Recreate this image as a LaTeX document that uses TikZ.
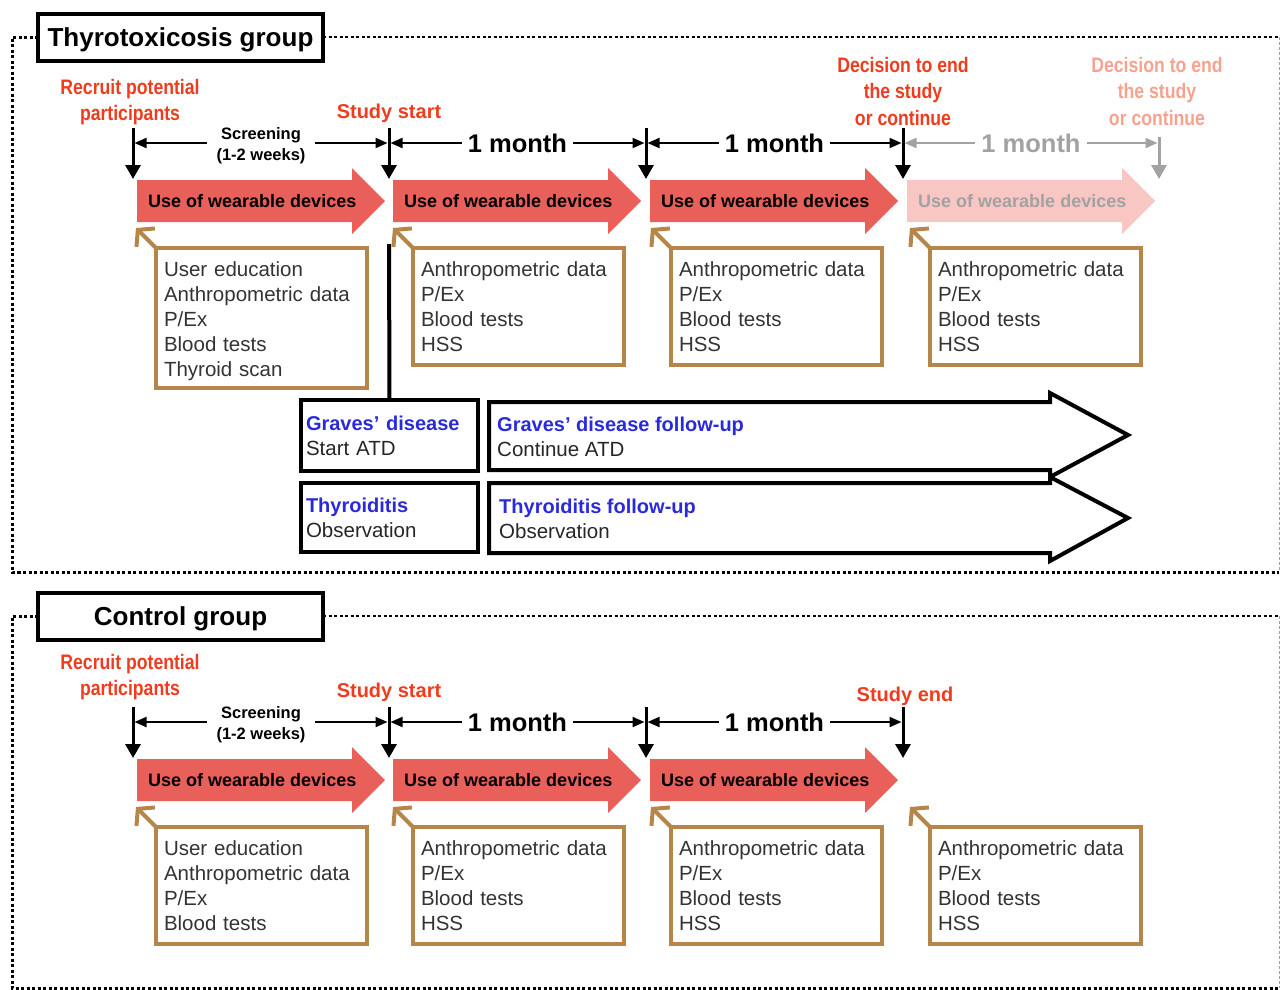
\documentclass[tikz,border=0pt]{standalone}
\usepackage{fontspec}
\setmainfont{Liberation Sans}
\newfontfamily\narrowfont{Liberation Sans}[FakeStretch=0.84]
\usetikzlibrary{arrows.meta,positioning}
\definecolor{wearred}{HTML}{E9605A}
\definecolor{wearpale}{HTML}{F8C6C3}
\definecolor{markred}{HTML}{F03C1E}
\definecolor{markpale}{HTML}{F7A28E}
\definecolor{boxbrown}{HTML}{B5854A}
\definecolor{armblue}{HTML}{2A2ADB}
\definecolor{fadegray}{HTML}{A2A2A2}
\tikzset{
    framedots/.style={line width=3pt, dash pattern=on 3pt off 2.5pt},
    frameedge/.style={line width=1pt, fadegray, dash pattern=on 3pt off 2pt},
    grouptitle/.style={draw, line width=4pt, fill=white, outer sep=0pt, inner sep=0pt,
        minimum width=285pt, minimum height=47pt, text height=19pt, text depth=0pt,
        font=\bfseries\fontsize{26}{30}\selectfont},
    milestone/.style={text=markred, align=center, font=\narrowfont\bfseries\fontsize{21}{26.5}\selectfont},
    startlabel/.style={text=markred, font=\bfseries\fontsize{20}{24}\selectfont},
    timetick/.style={line width=3pt, -{Triangle[length=14pt,width=15pt]}},
    spanline/.style={line width=2pt, shorten <=1.5pt, shorten >=1.5pt,
        {Triangle[length=12pt,width=10pt]}-{Triangle[length=12pt,width=10pt]}},
    spanlabel/.style={fill=white, inner xsep=6pt, inner ysep=1pt, font=\bfseries\fontsize{25.5}{28}\selectfont},
    screenlabel/.style={fill=white, inner xsep=10pt, inner ysep=1pt, yshift=-3pt, align=center,
        font=\bfseries\fontsize{16.5}{21}\selectfont},
    weartext/.style={anchor=west, inner sep=0pt, font=\bfseries\fontsize{18}{20}\selectfont},
    checkbox/.style={draw=boxbrown, line width=4pt, anchor=north west, outer sep=0pt,
        minimum width=211pt, minimum height=117pt, text width=195pt, inner xsep=8pt, inner ysep=0pt,
        align=left, text=black!80, font=\fontsize{20.5}{25}\selectfont},
    checkarrow/.style={draw=boxbrown, line width=4pt, -{Straight Barb[length=11pt,width=26pt]}},
    armline/.style={line width=4pt},
    armbox/.style={draw, line width=4pt, anchor=north west, outer sep=0pt,
        minimum width=177pt, text width=167pt, inner xsep=5pt, inner ysep=0pt,
        align=left, text=black!85, font=\fontsize{20.5}{25}\selectfont},
    armtext/.style={anchor=west, align=left, inner sep=0pt, text=black!85, font=\fontsize{20.5}{25}\selectfont},
}
\newcommand{\armtitle}[1]{{\color{armblue}\bfseries\fontsize{20}{25}\selectfont #1}}

\begin{document}
\begin{tikzpicture}[x=1pt,y=-1pt]
\useasboundingbox (0,0) rectangle (1281,989);

% ---- thyrotoxicosis group
\draw[framedots] (38,37) -- (12,37) -- (12,572) -- (1279,572);
\draw[framedots, line width=2.5pt] (323,37) -- (1279,37);
\draw[frameedge] (1279,37) -- (1279,572);
\node[grouptitle] (thyro) at (180.5,37) {Thyrotoxicosis group};

\node[milestone] (Trecruit) at (130,102) {Recruit potential\\participants};
\node[startlabel] (Tstart) at (389,113) {Study start};
\node[milestone] (Tdecide) at (903,91) {Decision to end\\the study\\or continue};
\node[milestone, text=markpale] (Tdecide2) at (1157,91) {Decision to end\\the study\\or continue};

\foreach \x [count=\i from 0] in {133,389,646,903,1159}
    \coordinate (Tt\i) at (\x,143);
\foreach \x in {133,389,646,903}
    \draw[timetick] (\x,128) -- (\x,179);
\draw[timetick, fadegray] (1159,137) -- (1159,179);
\draw[spanline] (Tt0) -- (Tt1) node[midway, screenlabel] {Screening\\(1-2 weeks)};
\draw[spanline] (Tt1) -- (Tt2) node[midway, spanlabel] {1 month};
\draw[spanline] (Tt2) -- (Tt3) node[midway, spanlabel] {1 month};
\draw[spanline, fadegray] (Tt3) -- (Tt4) node[midway, spanlabel, text=fadegray] {1 month};

\foreach \x/\c/\t [count=\i] in {133/wearred/black, 389/wearred/black, 646/wearred/black, 903/wearpale/fadegray} {
    \fill[\c] ({\x+4},180) -- ({\x+219},180) -- ({\x+219},168) -- ({\x+252},201)
        -- ({\x+219},234) -- ({\x+219},222) -- ({\x+4},222) -- cycle;
    \node[weartext, text=\t] (Tw\i) at ({\x+15},201) {Use of wearable devices};
}

\node[checkbox, minimum height=140pt] (Tc1) at (156,248)
    {\rule{0pt}{21pt}User education\\Anthropometric data\\P/Ex\\Blood tests\\Thyroid scan};
\foreach \x [count=\i from 2] in {413,671,930}
    \node[checkbox] (Tc\i) at (\x,248) {Anthropometric data\\P/Ex\\Blood tests\\HSS};
\foreach \i in {1,...,4} {
    \coordinate (Th\i) at ([shift={(-20,-20)}]Tc\i.north west);
    \draw[checkarrow] (Tc\i.north west) -- (Th\i);
}

% treatment arms
\coordinate (split) at (389,244);
\node[armbox, minimum height=71pt] (graves) at (301,400) {\armtitle{Graves’ disease}\\Start ATD};
\node[armbox, minimum height=69pt] (thyroid) at (301,483) {\armtitle{Thyroiditis}\\Observation};
\draw[armline] (split) -- (graves.north);
\draw[armline] (489,402) -- (1050,402) -- (1050,393) -- (1128,435) -- (1050,477)
    -- (1050,470) -- (489,470) -- cycle;
\draw[armline] (489,483) -- (1050,483) -- (1050,477) -- (1128,518) -- (1050,561)
    -- (1050,553) -- (489,553) -- cycle;
\node[armtext] (gfollow) at (497,437) {\armtitle{Graves’ disease follow-up}\\Continue ATD};
\node[armtext] (tfollow) at (499,519) {\armtitle{Thyroiditis follow-up}\\Observation};

% ---- control group
\begin{scope}[shift={(0,579)}]
\draw[framedots] (38,37) -- (12,37) -- (12,409) -- (1279,409);
\draw[framedots, line width=2.5pt] (323,37) -- (1279,37);
\draw[frameedge] (1279,37) -- (1279,409);
\node[grouptitle] (control) at (180.5,37) {Control group};

\node[milestone] (Crecruit) at (130,98) {Recruit potential\\participants};
\node[startlabel] (Cstart) at (389,113) {Study start};
\node[startlabel] (Cend) at (905,117) {Study end};

\foreach \x [count=\i from 0] in {133,389,646,903}
    \coordinate (Ct\i) at (\x,143);
\foreach \x in {133,389,646,903}
    \draw[timetick] (\x,128) -- (\x,179);
\draw[spanline] (Ct0) -- (Ct1) node[midway, screenlabel] {Screening\\(1-2 weeks)};
\draw[spanline] (Ct1) -- (Ct2) node[midway, spanlabel] {1 month};
\draw[spanline] (Ct2) -- (Ct3) node[midway, spanlabel] {1 month};

\foreach \x [count=\i] in {133,389,646} {
    \fill[wearred] ({\x+4},180) -- ({\x+219},180) -- ({\x+219},168) -- ({\x+252},201)
        -- ({\x+219},234) -- ({\x+219},222) -- ({\x+4},222) -- cycle;
    \node[weartext] (Cw\i) at ({\x+15},201) {Use of wearable devices};
}

\node[checkbox] (Cc1) at (156,248) {User education\\Anthropometric data\\P/Ex\\Blood tests};
\foreach \x [count=\i from 2] in {413,671,930}
    \node[checkbox] (Cc\i) at (\x,248) {Anthropometric data\\P/Ex\\Blood tests\\HSS};
\foreach \i in {1,...,4} {
    \coordinate (Ch\i) at ([shift={(-20,-20)}]Cc\i.north west);
    \draw[checkarrow] (Cc\i.north west) -- (Ch\i);
}
\end{scope}
\end{tikzpicture}
\end{document}
